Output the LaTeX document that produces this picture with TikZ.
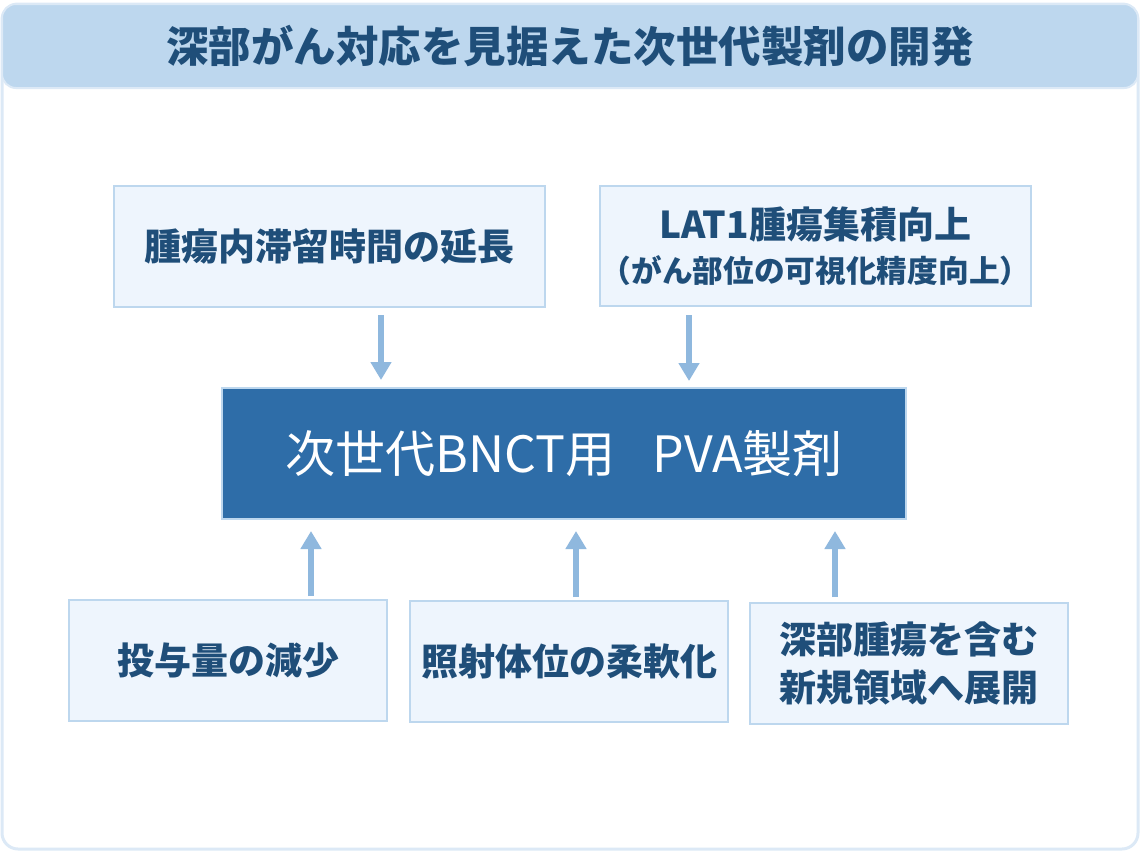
\documentclass[tikz,border=0pt]{standalone}
\usepackage{fontspec}
\setmainfont{Noto Sans CJK JP}
\usetikzlibrary{arrows.meta}
\definecolor{titlefill}{HTML}{BDD7EE}
\definecolor{titletext}{HTML}{1F4E79}
\definecolor{framecol}{HTML}{DCE9F6}
\definecolor{boxfill}{HTML}{EEF5FD}
\definecolor{boxline}{HTML}{BDD7EE}
\definecolor{ctrfill}{HTML}{2E6DA8}
\definecolor{arrcol}{HTML}{8FB8DE}
\begin{document}
\begin{tikzpicture}[x=1pt,y=-1pt,
  infobox/.style={draw=boxline, line width=2pt, fill=boxfill, text=titletext,
    inner sep=0pt, align=center, font=\bfseries\fontsize{37}{48}\selectfont},
  ctrbox/.style={draw=boxline, line width=2pt, fill=ctrfill, text=white,
    inner sep=0pt, font=\fontsize{50}{54}\selectfont},
  arr/.style={draw=arrcol, line width=6.5pt, -{Triangle[width=20pt,length=18pt]}}]
\useasboundingbox (0,0) rectangle (1140,852);
% frame and title bar
\draw[framecol, line width=3pt, fill=white, rounded corners=16pt] (2,4) rectangle (1138,849);
\node[draw=framecol, line width=2pt, fill=titlefill, rounded corners=14pt,
  minimum width=1136pt, minimum height=84pt, inner sep=0pt,
  text=titletext, font=\bfseries\fontsize{42.5}{44}\selectfont] (title) at (570,46)
  {深部がん対応を見据えた次世代製剤の開発};
% boxes
\node[infobox, minimum width=431pt, minimum height=121pt] (tl) at (329.5,246.5)
  {腫瘍内滞留時間の延長};
\node[infobox, minimum width=431pt, minimum height=120pt] (tr) at (815.5,246)
  {LAT1腫瘍集積向上\\[-4pt]{\fontsize{30.7}{40}\selectfont （がん部位の可視化精度向上）}};
\node[ctrbox, minimum width=684pt, minimum height=131pt] (ctr) at (564,453.5)
  {次世代BNCT用\hspace{0.75em}PVA製剤};
\node[infobox, minimum width=318pt, minimum height=121pt] (b1) at (228,660.5)
  {投与量の減少};
\node[infobox, minimum width=318pt, minimum height=121pt] (b2) at (569,661.5)
  {\hbox to 296pt{照\hfill 射\hfill 体\hfill 位\hfill の\hfill 柔\hfill 軟\hfill 化}};
\node[infobox, minimum width=318pt, minimum height=121pt] (b3) at (909,663.5)
  {深部腫瘍を含む\\新規領域へ展開};
% arrows
\draw[arr, shorten <=7pt, shorten >=7pt] (tl.south -| 381,0) -- (ctr.north -| 381,0);
\draw[arr, shorten <=8pt, shorten >=6pt] (tr.south -| 689,0) -- (ctr.north -| 689,0);
\draw[arr, shorten <=3pt, shorten >=11pt] (b1.north -| 311,0) -- (ctr.south -| 311,0);
\draw[arr, shorten <=3pt, shorten >=11pt] (b2.north -| 576,0) -- (ctr.south -| 576,0);
\draw[arr, shorten <=5pt, shorten >=11pt] (b3.north -| 835,0) -- (ctr.south -| 835,0);
\end{tikzpicture}
\end{document}
